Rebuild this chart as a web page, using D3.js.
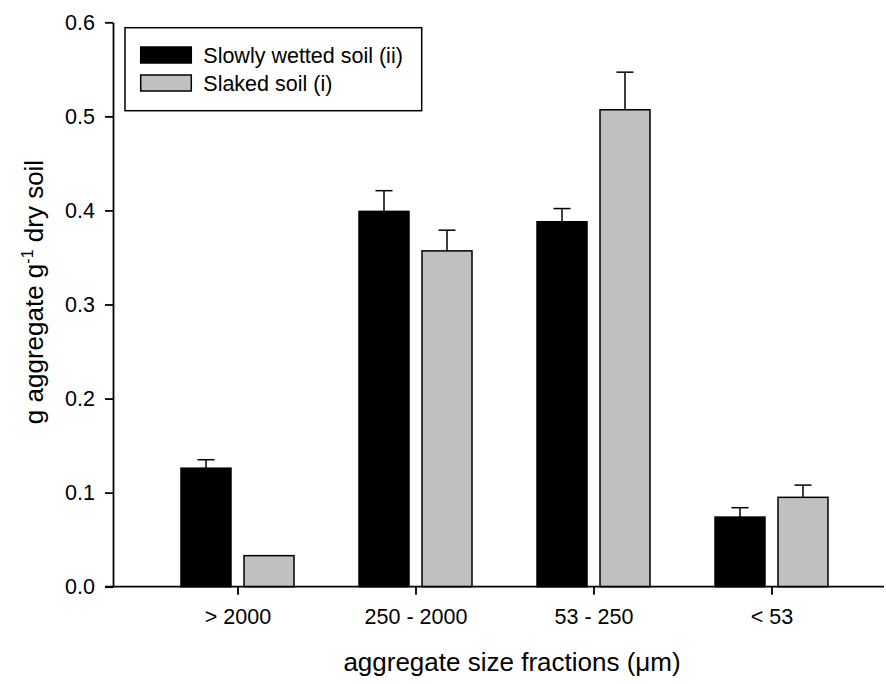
<!DOCTYPE html>
<html>
<head>
<meta charset="utf-8">
<script src="https://cdn.jsdelivr.net/npm/d3@7"></script>
<style>
  body { margin: 0; background: #fff; }
  text { font-family: "Liberation Sans", Arial, sans-serif; fill: #000; }
</style>
</head>
<body>
<div id="chart"></div>
<script>
const categories = ["> 2000", "250 - 2000", "53 - 250", "< 53"];
const seriesNames = ["Slowly wetted soil (ii)", "Slaked soil (i)"];
const slowlyWetted = [0.126, 0.399, 0.388, 0.074];
const slowlyWettedErr = [0.009, 0.022, 0.014, 0.010];
const slaked = [0.033, 0.357, 0.507, 0.095];
const slakedErr = [null, 0.022, 0.040, 0.013];
const yTicks = [0.0, 0.1, 0.2, 0.3, 0.4, 0.5, 0.6];

document.addEventListener('DOMContentLoaded', function(){
    drawChart();
});

function drawChart() {
    const W = 886, H = 684;
    const left = 113, right = 884, top = 22.3, bottom = 586.7;
    const svg = d3.select("#chart").append("svg").attr("width", W).attr("height", H);

    const y = d3.scaleLinear().domain([0, 0.6]).range([bottom, top]);
    const x = d3.scalePoint().domain(categories).range([237.5, 771.5]);
    const barW = 50, off = 31.5;
    const colors = ["#000000", "#c0c0c0"];

    const series = [
        { name: seriesNames[0], vals: slowlyWetted, err: slowlyWettedErr, color: colors[0], dx: -off },
        { name: seriesNames[1], vals: slaked, err: slakedErr, color: colors[1], dx: off }
    ];

    // bars + error bars (only the upper half is drawn)
    series.forEach(function(s) {
        const g = svg.append('g');
        g.selectAll('rect').data(categories).enter().append('rect')
            .attr('x', (c) => x(c) + s.dx - barW / 2)
            .attr('y', (c, i) => y(s.vals[i]))
            .attr('width', barW)
            .attr('height', (c, i) => y(0) - y(s.vals[i]))
            .attr('fill', s.color)
            .attr('stroke', '#000')
            .attr('stroke-width', 1.5);
        const withErr = categories.map((c, i) => ({ c: c, v: s.vals[i], e: s.err[i] })).filter(d => d.e != null);
        const eb = g.selectAll('g.err').data(withErr).enter().append('g');
        eb.append('line')
            .attr('x1', (d) => x(d.c) + s.dx).attr('x2', (d) => x(d.c) + s.dx)
            .attr('y1', (d) => y(d.v))
            .attr('y2', (d) => y(d.v + d.e))
            .attr('stroke', '#000').attr('stroke-width', 1.5);
        eb.append('line')
            .attr('x1', (d) => x(d.c) + s.dx - 8.5).attr('x2', (d) => x(d.c) + s.dx + 8.5)
            .attr('y1', (d) => y(d.v + d.e))
            .attr('y2', (d) => y(d.v + d.e))
            .attr('stroke', '#000').attr('stroke-width', 1.5);
    });

    // y axis
    const yAxis = svg.append('g').attr('transform', 'translate(' + left + ',0)')
        .call(d3.axisLeft(y).tickValues(yTicks).tickFormat(d3.format('.1f')).tickSize(8).tickSizeOuter(0).tickPadding(10));
    yAxis.selectAll('path, line').attr('stroke', '#000').attr('stroke-width', 1.8);
    yAxis.selectAll('text').style('font-size', '21.5px').style('font-family', '"Liberation Sans", Arial, sans-serif');

    // x axis (line runs across the full width)
    const xAxis = svg.append('g').attr('transform', 'translate(0,' + bottom + ')')
        .call(d3.axisBottom(x).tickSize(8).tickSizeOuter(0).tickPadding(14));
    xAxis.select('.domain').remove();
    xAxis.append('line').attr('x1', left - 8).attr('x2', right).attr('y1', 0).attr('y2', 0)
        .attr('stroke', '#000').attr('stroke-width', 1.8);
    xAxis.selectAll('line').attr('stroke', '#000').attr('stroke-width', 1.8);
    xAxis.selectAll('text').style('font-size', '21.5px').style('font-family', '"Liberation Sans", Arial, sans-serif');

    // axis titles
    svg.append('text')
        .attr('x', 512).attr('y', 671)
        .attr('text-anchor', 'middle')
        .style('font-size', '26px')
        .text('aggregate size fractions (\u03bcm)');

    const yt = svg.append('text')
        .attr('transform', 'translate(43,' + 292 + ') rotate(-90)')
        .attr('text-anchor', 'middle')
        .style('font-size', '26px');
    yt.append('tspan').text('g aggregate g');
    yt.append('tspan').attr('dy', -10).style('font-size', '16px').text('-1');
    yt.append('tspan').attr('dy', 10).text(' dry soil');

    // legend
    const lg = svg.append('g');
    lg.append('rect').attr('x', 125).attr('y', 27.7).attr('width', 296.7).attr('height', 83)
        .attr('fill', '#fff').attr('stroke', '#000').attr('stroke-width', 1.5);
    series.forEach(function(s, i) {
        lg.append('rect').attr('x', 140.7).attr('y', 47 + i * 28).attr('width', 50.6).attr('height', 16)
            .attr('fill', s.color).attr('stroke', '#000').attr('stroke-width', 1.5);
        lg.append('text').attr('x', 203.3).attr('y', 62.5 + i * 28)
            .style('font-size', '21.5px').text(s.name);
    });
}
</script>
</body>
</html>
